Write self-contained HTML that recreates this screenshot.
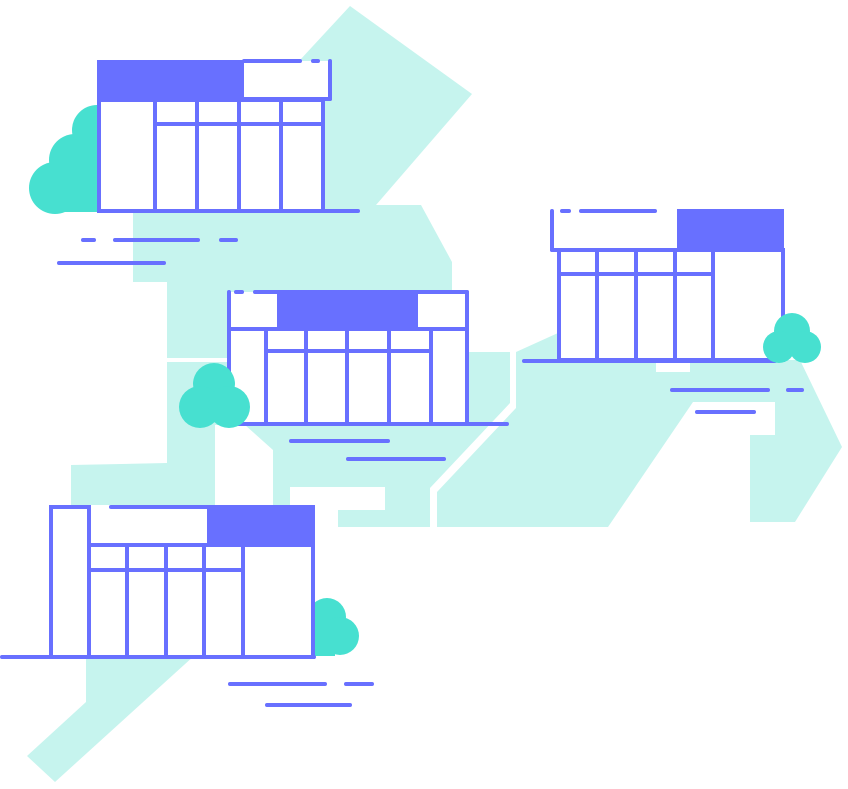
<!DOCTYPE html>
<html><head><style>html,body{margin:0;padding:0;background:#fff}svg{display:block}</style></head>
<body>
<svg width="848" height="789" viewBox="0 0 848 789" xmlns="http://www.w3.org/2000/svg">
<g fill="#c6f4ee">
<polygon points="350,6 472,94 376,205 300,205 300,60"/>
<polygon points="133,205 421,205 452,262 452,352 510,352 510,403 430,488 430,527 338,527 338,510 385,510 385,487 290,487 290,505 273,505 273,450 245,425 215,425 215,505 167,505 167,362 229,362 229,358 167,358 167,282 133,282"/>
<polygon points="71,465 167,463 167,505 71,505"/>
<polygon points="437,492 516,408 516,352 558,333 558,360 800,360 842,447 795,522 750,522 750,435 775,435 775,402 693,402 608,527 437,527"/>
<polygon points="86,655 195,655 55,782 27,756 86,702"/>
</g>
<rect x="656" y="362" width="34" height="10" fill="#fff"/>
<g fill="#47e0d0">
<circle cx="55" cy="188" r="26"/><circle cx="75" cy="160" r="26"/><circle cx="97" cy="130" r="25"/><rect x="55" y="150" width="45" height="62"/>
<circle cx="327" cy="617" r="19"/><circle cx="340" cy="636" r="19"/><rect x="305" y="620" width="30" height="36"/>
</g>
<g fill="#fff">
<rect x="244" y="61" width="86" height="38"/>
<rect x="229" y="292" width="48" height="36"/>
<rect x="418" y="292" width="49" height="36"/>
<rect x="552" y="211" width="125" height="39"/>
<rect x="89" y="507" width="118" height="38"/>
</g>
<g stroke="#6870ff" stroke-width="4" fill="#fff" stroke-linecap="round">
<!-- Building 1 -->
<rect x="99" y="100" width="224" height="111"/>
<rect x="97" y="60" width="147" height="41" fill="#6870ff" stroke="none"/>
<line x1="244" y1="61" x2="300" y2="61"/><line x1="313" y1="61" x2="318" y2="61"/>
<line x1="330" y1="61" x2="330" y2="99"/><line x1="244" y1="99" x2="330" y2="99"/>
<line x1="155" y1="100" x2="155" y2="211"/><line x1="197" y1="100" x2="197" y2="211"/><line x1="239" y1="100" x2="239" y2="211"/><line x1="281" y1="100" x2="281" y2="211"/>
<line x1="155" y1="124" x2="323" y2="124"/>
<line x1="99" y1="211" x2="358" y2="211"/>
<line x1="83" y1="240" x2="94" y2="240"/><line x1="115" y1="240" x2="198" y2="240"/><line x1="221" y1="240" x2="236" y2="240"/><line x1="59" y1="263" x2="164" y2="263"/>
<!-- Building 2 -->
<rect x="229" y="329" width="238" height="95"/>
<line x1="229" y1="292" x2="229" y2="329"/><line x1="467" y1="292" x2="467" y2="329"/>
<line x1="236" y1="292" x2="242" y2="292"/><line x1="255" y1="292" x2="467" y2="292"/>
<rect x="277" y="291" width="141" height="39" fill="#6870ff" stroke="none"/>
<line x1="266" y1="329" x2="266" y2="424"/><line x1="306" y1="329" x2="306" y2="424"/><line x1="347" y1="329" x2="347" y2="424"/><line x1="389" y1="329" x2="389" y2="424"/><line x1="431" y1="329" x2="431" y2="424"/>
<line x1="266" y1="351" x2="431" y2="351"/>
<line x1="240" y1="424" x2="507" y2="424"/>
<line x1="291" y1="441" x2="388" y2="441"/><line x1="348" y1="459" x2="444" y2="459"/>
<!-- Building 3 -->
<rect x="559" y="250" width="224" height="110"/>
<line x1="552" y1="211" x2="552" y2="250"/><line x1="552" y1="250" x2="677" y2="250"/>
<line x1="562" y1="211" x2="569" y2="211"/><line x1="581" y1="211" x2="655" y2="211"/>
<rect x="677" y="209" width="107" height="42" fill="#6870ff" stroke="none"/>
<line x1="597" y1="250" x2="597" y2="360"/><line x1="636" y1="250" x2="636" y2="360"/><line x1="675" y1="250" x2="675" y2="360"/><line x1="713" y1="250" x2="713" y2="360"/>
<line x1="559" y1="274" x2="713" y2="274"/>
<line x1="524" y1="361" x2="775" y2="361"/>
<line x1="672" y1="390" x2="768" y2="390"/><line x1="788" y1="390" x2="802" y2="390"/><line x1="697" y1="412" x2="754" y2="412"/>
<!-- Building 4 -->
<rect x="89" y="545" width="224" height="112"/>
<rect x="51" y="507" width="38" height="150"/>
<line x1="111" y1="507" x2="207" y2="507"/>
<rect x="207" y="505" width="108" height="42" fill="#6870ff" stroke="none"/>
<line x1="127" y1="545" x2="127" y2="657"/><line x1="166" y1="545" x2="166" y2="657"/><line x1="204" y1="545" x2="204" y2="657"/><line x1="243" y1="545" x2="243" y2="657"/>
<line x1="89" y1="570" x2="243" y2="570"/>
<line x1="2" y1="657" x2="314" y2="657"/>
<line x1="230" y1="684" x2="325" y2="684"/><line x1="346" y1="684" x2="372" y2="684"/><line x1="267" y1="705" x2="350" y2="705"/>
</g>
<g fill="#47e0d0">
<circle cx="214" cy="384" r="21"/><circle cx="200" cy="407" r="21"/><circle cx="229" cy="407" r="21"/>
<circle cx="792" cy="331" r="18"/><circle cx="779" cy="347" r="16"/><circle cx="805" cy="347" r="16"/>
</g>
</svg>
</body></html>
